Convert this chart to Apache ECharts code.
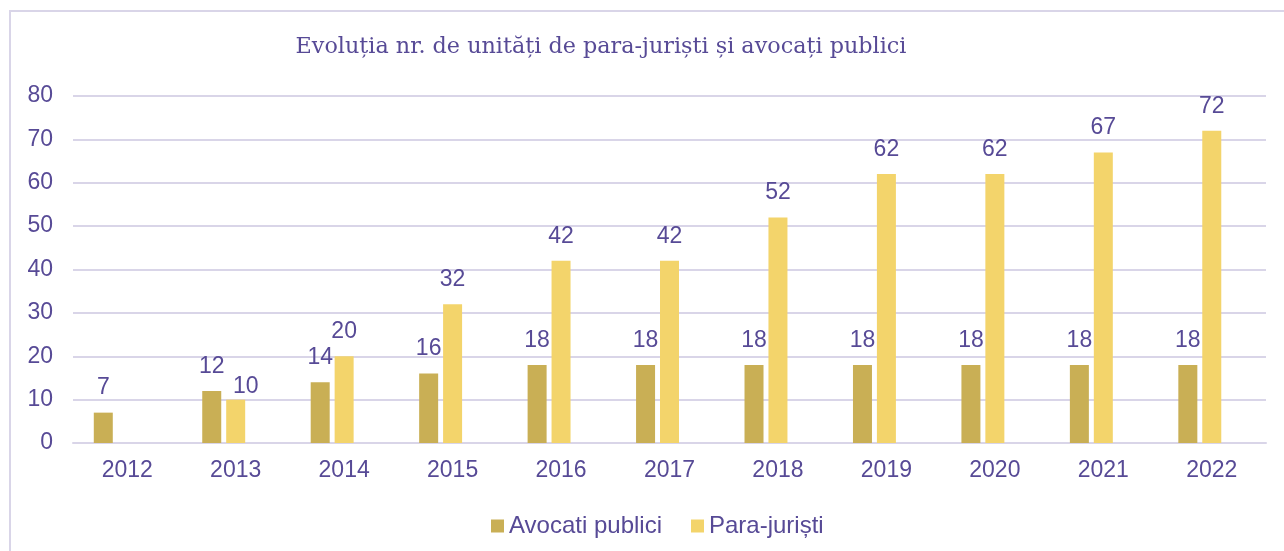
<!DOCTYPE html>
<html>
<head>
<meta charset="utf-8">
<script src="https://cdn.jsdelivr.net/npm/echarts@6/dist/echarts.min.js"></script>
<style>
  html, body { margin: 0; padding: 0; background: #fff; }
  #chart { width: 1284px; height: 551px; }
</style>
</head>
<body>
<div id="chart"></div>
<script>
const years = ["2012", "2013", "2014", "2015", "2016", "2017", "2018", "2019", "2020", "2021", "2022"];
const avocati = [7, 12, 14, 16, 18, 18, 18, 18, 18, 18, 18];
const paraJuristi = [null, 10, 20, 32, 42, 42, 52, 62, 62, 67, 72];
// the source chart keeps an empty third slot in every group
const emptySlot = years.map(() => null);
const yTicks = [0, 10, 20, 30, 40, 50, 60, 70, 80];

const textColor = "#574A96";
const font = "Liberation Sans, Arial, sans-serif";

const chart = echarts.init(document.getElementById("chart"));

const label = {
  show: true,
  position: "top",
  distance: 13,
  color: textColor,
  fontFamily: font,
  fontSize: 23,
};

// in 2013 the para-juristi label is nudged aside so it does not touch "12"
const paraData = paraJuristi.map((v, i) =>
  years[i] === "2013" ? { value: v, label: { offset: [10, 12] } } : v
);

chart.setOption({
  animation: false,
  graphic: [{
    type: "rect",
    shape: { x: 10, y: 11, width: 1290, height: 600 },
    style: { fill: "none", stroke: "#D9D5E8", lineWidth: 2 },
    silent: true,
  }],
  title: {
    text: "Evoluția nr. de unități de para-juriști și avocați publici",
    left: 596,
    textAlign: "center",
    top: 31,
    textStyle: {
      color: textColor,
      fontFamily: "DejaVu Serif, serif",
      fontWeight: "normal",
      fontSize: 22.3,
    },
  },
  legend: {
    top: 509,
    left: 486,
    itemWidth: 13,
    itemHeight: 13,
    itemGap: 29,
    icon: "rect",
    textStyle: { color: textColor, fontFamily: font, fontSize: 24 },
    data: ["Avocati publici", "Para-juriști"],
  },
  grid: { left: 73, right: 18, top: 96, bottom: 108 },
  xAxis: {
    type: "category",
    data: years,
    axisLine: { lineStyle: { color: "#D9D5E8", width: 2 } },
    axisTick: { show: false },
    axisLabel: { color: textColor, fontFamily: font, fontSize: 23, margin: 16 },
  },
  yAxis: {
    type: "value",
    min: yTicks[0],
    max: yTicks[yTicks.length - 1],
    interval: 10,
    axisLine: { show: false },
    axisTick: { show: false },
    splitLine: { lineStyle: { color: "#D9D5E8", width: 2 } },
    axisLabel: { color: textColor, fontFamily: font, fontSize: 23, margin: 20 },
  },
  series: [
    {
      name: "Avocati publici",
      type: "bar",
      data: avocati,
      barWidth: 19,
      barGap: "26%",
      itemStyle: { color: "#C9AF55" },
      label,
    },
    {
      name: "Para-juriști",
      type: "bar",
      data: paraData,
      barWidth: 19,
      itemStyle: { color: "#F3D46B" },
      label,
    },
    {
      name: "gol",
      type: "bar",
      data: emptySlot,
      barWidth: 19,
    },
  ],
});
</script>
</body>
</html>
